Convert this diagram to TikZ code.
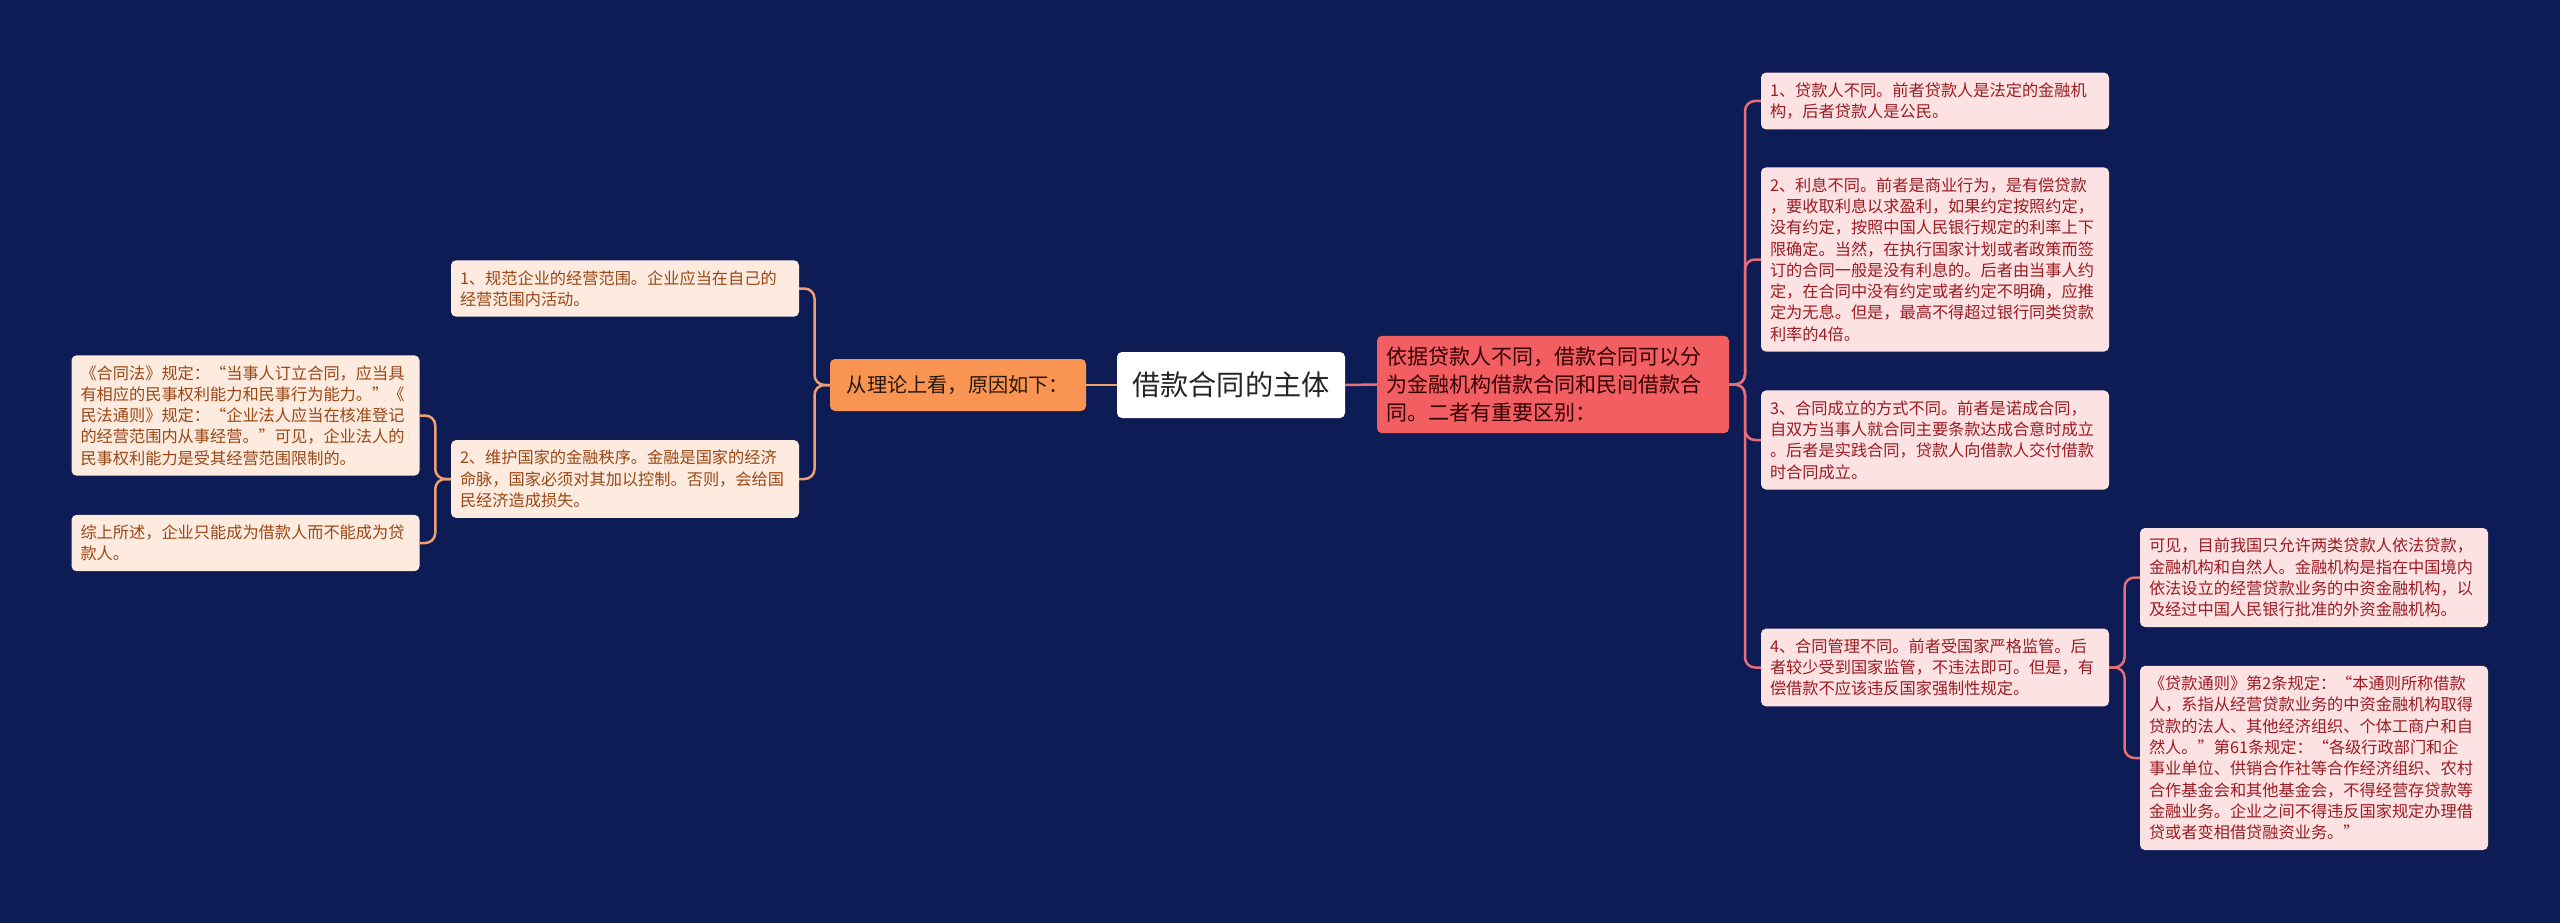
\documentclass[tikz,border=0pt]{standalone}
\usepackage{fontspec}
\setmainfont{Noto Sans CJK SC}
\usetikzlibrary{calc}
\definecolor{bg}{HTML}{0E1C56}
\definecolor{lconn}{HTML}{F0A070}
\definecolor{rconn}{HTML}{E66E78}
\definecolor{lfill}{HTML}{FEEBDF}
\definecolor{ltext}{HTML}{9A4716}
\definecolor{rfill}{HTML}{FDE2E3}
\definecolor{rtext}{HTML}{9B1C22}
\definecolor{ofill}{HTML}{FA9452}
\definecolor{mfill}{HTML}{F25E62}
\tikzset{
  base/.style={rounded corners=5pt, inner sep=0pt},
  leaf/.style={base, text width=330pt, inner xsep=9pt, inner ysep=10pt, align=left,
    font=\fontsize{16.2pt}{21.3pt}\selectfont},
  lleaf/.style={leaf, fill=lfill, text=ltext},
  rleaf/.style={leaf, fill=rfill, text=rtext},
  rootbox/.style={base, fill=white, text=black!85, minimum width=228pt, minimum height=66pt,
    font=\fontsize{28.2pt}{33pt}\selectfont},
  theorybox/.style={base, fill=ofill, text=black!80!brown, minimum width=256pt, minimum height=52pt,
    font=\fontsize{20.2pt}{24pt}\selectfont},
  mainbox/.style={base, fill=mfill, text=black!80!red, text width=334pt, inner xsep=9pt, inner ysep=11pt,
    align=left, font=\fontsize{21pt}{28pt}\selectfont},
  lc/.style={draw=lconn, line width=2.5pt, rounded corners=10pt},
  rc/.style={draw=rconn, line width=2.5pt, rounded corners=10pt},
}
\begin{document}
\begin{tikzpicture}[x=1pt,y=1pt]
\fill[bg] (0,0) rectangle (2560,-923);
\useasboundingbox (0,0) rectangle (2560,-923);

\node[rootbox] (root) at (1231,-385) {借款合同的主体};
\node[theorybox] (theory) at (958,-385) {从理论上看，原因如下：};
\node[mainbox] (main) at (1553,-384.5) {依据贷款人不同，借款合同可以分\\为金融机构借款合同和民间借款合\\同。二者有重要区别：};

\node[lleaf] (l1) at (625,-288.5) {1、规范企业的经营范围。企业应当在自己的\\经营范围内活动。};
\node[lleaf] (l2) at (625,-479) {2、维护国家的金融秩序。金融是国家的经济\\命脉，国家必须对其加以控制。否则，会给国\\民经济造成损失。};
\node[lleaf] (la) at (245.5,-415.5) {《合同法》规定：“当事人订立合同，应当具\\有相应的民事权利能力和民事行为能力。”《\\民法通则》规定：“企业法人应当在核准登记\\的经营范围内从事经营。”可见，企业法人的\\民事权利能力是受其经营范围限制的。};
\node[lleaf] (lb) at (245.5,-543) {综上所述，企业只能成为借款人而不能成为贷\\款人。};

\node[rleaf] (r1) at (1935,-101) {1、贷款人不同。前者贷款人是法定的金融机\\构，后者贷款人是公民。};
\node[rleaf] (r2) at (1935,-259.5) {2、利息不同。前者是商业行为，是有偿贷款\\，要收取利息以求盈利，如果约定按照约定，\\没有约定，按照中国人民银行规定的利率上下\\限确定。当然，在执行国家计划或者政策而签\\订的合同一般是没有利息的。后者由当事人约\\定，在合同中没有约定或者约定不明确，应推\\定为无息。但是，最高不得超过银行同类贷款\\利率的4倍。};
\node[rleaf] (r3) at (1935,-440) {3、合同成立的方式不同。前者是诺成合同，\\自双方当事人就合同主要条款达成合意时成立\\。后者是实践合同，贷款人向借款人交付借款\\时合同成立。};
\node[rleaf] (r4) at (1935,-667.5) {4、合同管理不同。前者受国家严格监管。后\\者较少受到国家监管，不违法即可。但是，有\\偿借款不应该违反国家强制性规定。};

\node[rleaf] (ra) at (2314,-577.5) {可见，目前我国只允许两类贷款人依法贷款，\\金融机构和自然人。金融机构是指在中国境内\\依法设立的经营贷款业务的中资金融机构，以\\及经过中国人民银行批准的外资金融机构。};
\node[rleaf] (rb) at (2314,-758) {《贷款通则》第2条规定：“本通则所称借款\\人，系指从经营贷款业务的中资金融机构取得\\贷款的法人、其他经济组织、个体工商户和自\\然人。”第61条规定：“各级行政部门和企\\事业单位、供销合作社等合作经济组织、农村\\合作基金会和其他基金会，不得经营存贷款等\\金融业务。企业之间不得违反国家规定办理借\\贷或者变相借贷融资业务。”};

% connectors
\draw[lc] (root.west) -- (theory.east);
\draw[rc] (root.east) -- (main.west);
\foreach \c in {l1,l2}
  \draw[lc] (theory.west) -| ($(theory.west)!0.5!(\c.east)$) |- (\c.east);
\foreach \c in {la,lb}
  \draw[lc] (l2.west) -| ($(l2.west)!0.5!(\c.east)$) |- (\c.east);
\foreach \c in {r1,r2,r3,r4}
  \draw[rc] (main.east) -| ($(main.east)!0.5!(\c.west)$) |- (\c.west);
\foreach \c in {ra,rb}
  \draw[rc] (r4.east) -| ($(r4.east)!0.5!(\c.west)$) |- (\c.west);
\end{tikzpicture}
\end{document}
